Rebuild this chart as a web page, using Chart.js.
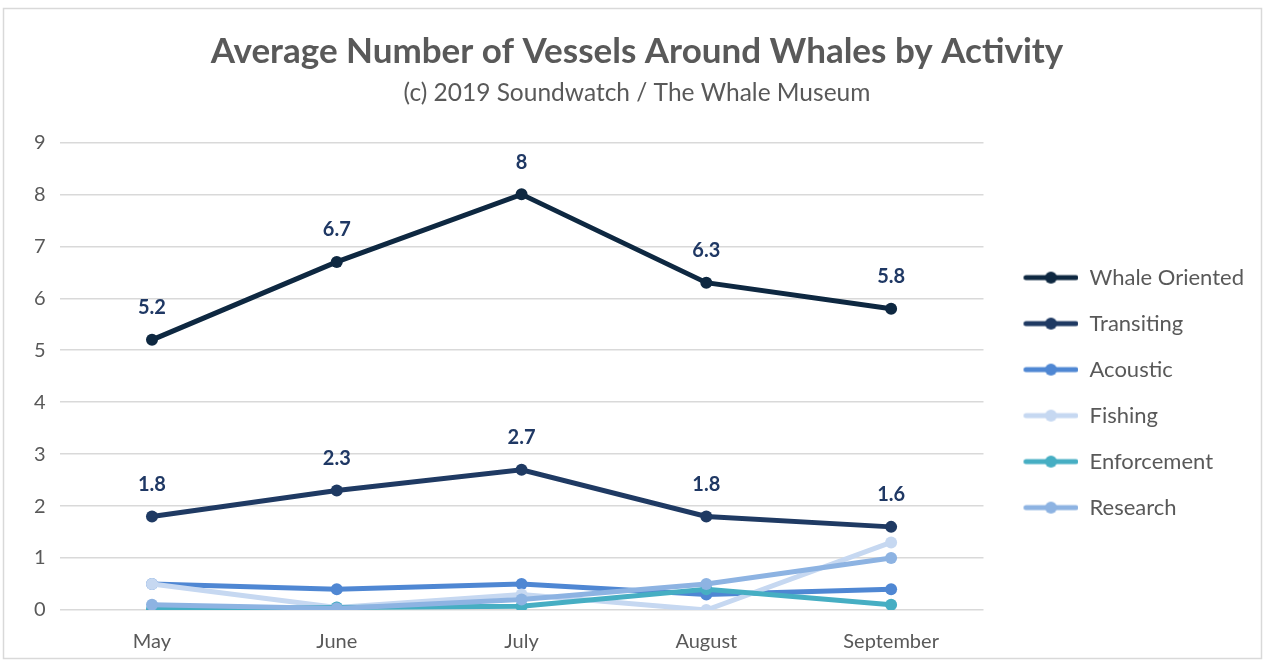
<!DOCTYPE html>
<html>
<head>
<meta charset="utf-8">
<script src="https://cdn.jsdelivr.net/npm/chart.js@4.4.0/dist/chart.umd.min.js"></script>
<style>
  html, body { margin: 0; padding: 0; background: #fff; }
  #wrap { width: 1267px; height: 668px; position: relative; }
</style>
</head>
<body>
<div id="wrap"><canvas id="chart" width="1267" height="668"></canvas></div>
<script>
const months = ['May', 'June', 'July', 'August', 'September'];
const whaleOriented = [5.2, 6.7, 8, 6.3, 5.8];
const transiting = [1.8, 2.3, 2.7, 1.8, 1.6];
const acoustic = [0.5, 0.4, 0.5, 0.3, 0.4];
const fishing = [0.5, 0.05, 0.3, 0, 1.3];
const enforcement = [0.02, 0.05, 0.07, 0.4, 0.1];
const research = [0.1, 0.03, 0.2, 0.5, 1.0];
const seriesNames = ['Whale Oriented', 'Transiting', 'Acoustic', 'Fishing', 'Enforcement', 'Research'];
const seriesColors = ['#0e2841', '#1f3a63', '#4f87d3', '#c6d8f1', '#46aec3', '#8db3e2'];
const yTicks = [0, 1, 2, 3, 4, 5, 6, 7, 8, 9];

const textColor = '#595959';
const font = 'Lato, "Open Sans", sans-serif';

// line + dot marker for the legend (blank margin on the left)
function legendMarker(color) {
  const c = document.createElement('canvas');
  c.width = 71; c.height = 14;
  const g = c.getContext('2d');
  g.strokeStyle = color;
  g.lineWidth = 5;
  g.lineCap = 'round';
  g.beginPath(); g.moveTo(18.5, 7); g.lineTo(68.5, 7); g.stroke();
  g.fillStyle = color;
  g.beginPath(); g.arc(43.5, 7, 6, 0, Math.PI * 2); g.fill();
  return c;
}

const valueLabels = {
  id: 'valueLabels',
  afterDatasetsDraw(chart) {
    const ctx = chart.ctx;
    ctx.save();
    ctx.font = 'bold 20px ' + font;
    ctx.fillStyle = '#1f3864';
    ctx.textAlign = 'center';
    ctx.textBaseline = 'middle';
    chart.data.datasets.forEach((ds, i) => {
      if (!ds.showValues) return;
      chart.getDatasetMeta(i).data.forEach((pt, j) => {
        ctx.fillText(String(ds.data[j]), pt.x, pt.y - 32);
      });
    });
    ctx.restore();
  }
};

const frame = {
  id: 'frame',
  beforeDraw(chart) {
    const ctx = chart.ctx;
    ctx.save();
    ctx.fillStyle = '#fff';
    ctx.fillRect(0, 0, chart.width, chart.height);
    ctx.strokeStyle = '#d9d9d9';
    ctx.lineWidth = 1.5;
    ctx.strokeRect(3.5, 8.5, 1258, 650);
    ctx.restore();
  }
};

const allSeries = [whaleOriented, transiting, acoustic, fishing, enforcement, research];

const datasets = allSeries.map((vals, i) => ({
  label: seriesNames[i],
  data: vals,
  borderColor: seriesColors[i],
  backgroundColor: seriesColors[i],
  borderWidth: 5,
  pointRadius: 6,
  pointHoverRadius: 6,
  pointBorderWidth: 0,
  tension: 0,
  order: allSeries.length - i,
  showValues: i < 2,
  marker: legendMarker(seriesColors[i])
}));

new Chart(document.getElementById('chart'), {
  type: 'line',
  data: { labels: months, datasets },
  plugins: [frame, valueLabels],
  options: {
    responsive: false,
    animation: false,
    layout: { padding: { top: 18, left: 20, right: 13, bottom: 2 } },
    plugins: {
      title: {
        display: true,
        text: 'Average Number of Vessels Around Whales by Activity',
        color: textColor,
        font: { family: font, size: 35, weight: 'bold' },
        padding: { top: 13, bottom: 5 }
      },
      subtitle: {
        display: true,
        text: '(c) 2019 Soundwatch / The Whale Museum',
        color: textColor,
        font: { family: font, size: 24.5 },
        padding: { bottom: 35 }
      },
      legend: {
        position: 'right',
        title: { display: true, text: ' ', font: { size: 1 }, padding: { top: 100, bottom: 0 } },
        labels: {
          color: textColor,
          font: { family: font, size: 22 },
          usePointStyle: true,
          pointStyleWidth: 71,
          padding: 24,
          sort: (a, b) => a.datasetIndex - b.datasetIndex,
          generateLabels(chart) {
            return chart.data.datasets.map((ds, i) => ({
              text: ds.label,
              fillStyle: ds.borderColor,
              strokeStyle: ds.borderColor,
              fontColor: textColor,
              lineWidth: 0,
              pointStyle: ds.marker,
              datasetIndex: i
            }));
          }
        }
      },
      tooltip: { enabled: false }
    },
    scales: {
      x: {
        offset: true,
        grid: { display: false },
        border: { display: false },
        ticks: { color: textColor, font: { family: font, size: 20 }, padding: 12 }
      },
      y: {
        min: 0,
        max: 9,
        afterBuildTicks(s) { s.ticks = yTicks.map(v => ({ value: v })); },
        grid: { color: '#d9d9d9', lineWidth: 1.5, drawTicks: false },
        border: { display: false },
        ticks: { color: textColor, font: { family: font, size: 20 }, padding: 14 }
      }
    }
  }
});
</script>
</body>
</html>
